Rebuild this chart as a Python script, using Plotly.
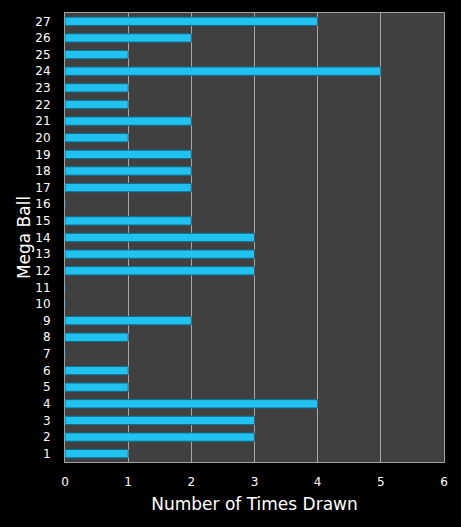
import plotly.graph_objects as go

# mega ball numbers and how often each was drawn
balls = list(range(1, 28))
times_drawn = [1, 3, 3, 4, 1, 1, 0, 1, 2, 0, 0, 3, 3, 3, 2, 0, 2, 2, 2, 1, 2, 1, 1, 5, 1, 2, 4]
x_ticks = [0, 1, 2, 3, 4, 5, 6]

fig = go.Figure()
fig.add_trace(go.Bar(x=times_drawn, y=balls, orientation='h',
                     marker=dict(color='#22c2f0', line=dict(color='#0d6f91', width=1)),
                     width=0.5))

fig.update_layout(width=461, height=527,
                  paper_bgcolor='black', plot_bgcolor='#404040',
                  margin=dict(l=65, r=17, t=13, b=65),
                  font=dict(family='DejaVu Sans', color='white', size=12),
                  showlegend=False)
fig.update_xaxes(range=[0, 6], tickvals=x_ticks, showgrid=True, gridcolor='#a8a8a8',
                 gridwidth=1, zeroline=False, showline=True, linecolor='#a0a0a0',
                 mirror=True, ticks='', ticklabelstandoff=9,
                 title=dict(text='Number of Times Drawn', font=dict(size=17), standoff=9))
fig.update_yaxes(range=[0.5, 27.5], tickvals=balls, showgrid=False, zeroline=False,
                 showline=True, linecolor='#a0a0a0', mirror=True, ticks='',
                 ticklabelstandoff=11,
                 title=dict(text='Mega Ball', font=dict(size=17), standoff=0))

# drop the page margin so the chart sits at the window corner
fig.write_html('out.html', config={'displayModeBar': False},
               post_script="document.body.style.margin='0';document.body.style.background='black';")
